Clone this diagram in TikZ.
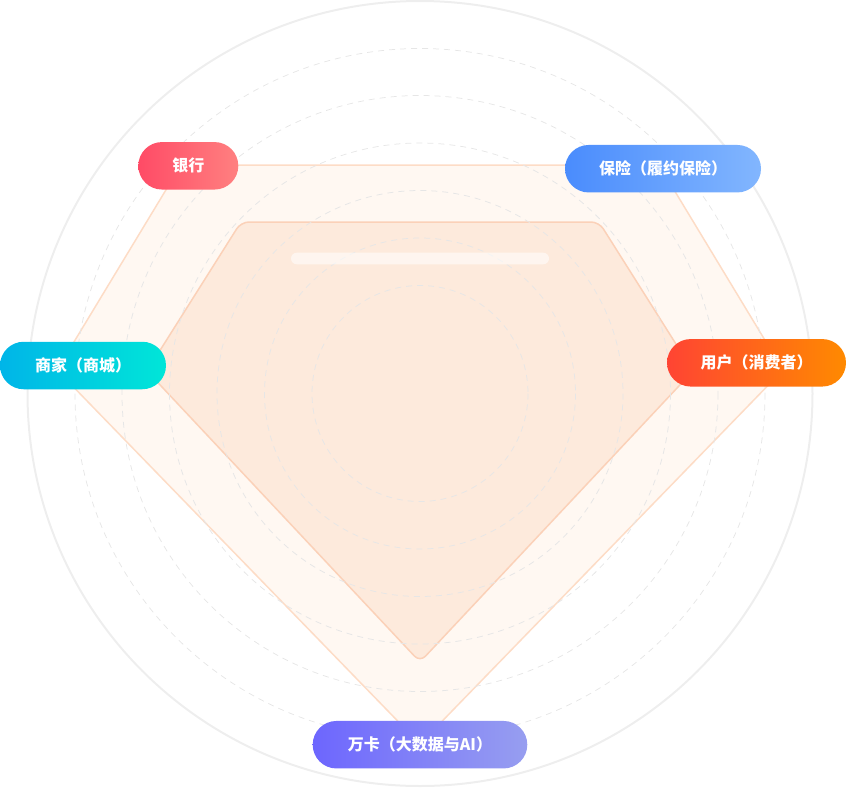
\documentclass[tikz,border=0pt]{standalone}
\usepackage{fontspec}
\setmainfont{Noto Sans CJK SC}
\definecolor{ringline}{HTML}{EEEEEE}
\definecolor{dashline}{HTML}{E6E6E6}
\definecolor{gemout}{HTML}{FFF8F2}
\definecolor{gemoutline}{HTML}{FDDCC6}
\definecolor{gemin}{HTML}{FDEADC}
\definecolor{geminline}{HTML}{FBD1B8}
\definecolor{bankL}{HTML}{FF4B66}
\definecolor{bankR}{HTML}{FF8080}
\definecolor{insurL}{HTML}{4A8CFD}
\definecolor{insurR}{HTML}{82B6FE}
\definecolor{merchL}{HTML}{00B5E8}
\definecolor{merchR}{HTML}{00E6D8}
\definecolor{userL}{HTML}{FF4433}
\definecolor{userR}{HTML}{FF8A00}
\definecolor{wankaL}{HTML}{6D66FE}
\definecolor{wankaR}{HTML}{979EF0}

\begin{document}
\begin{tikzpicture}[x=1pt,y=-1pt,
  ring/.style={draw=dashline,dash pattern=on 6pt off 5pt,line width=0.75pt},
  gemouter/.style={fill=gemout,draw=gemoutline,line width=1.5pt,rounded corners=8pt},
  geminner/.style={fill=gemin,draw=geminline,line width=1.5pt,rounded corners=8pt},
  pill/.style={rounded corners=23.75pt,minimum height=47.5pt,inner sep=0pt,
    text=white,font=\fontsize{16}{19}\selectfont\bfseries}]
\useasboundingbox (0,0) rectangle (847,788);
% outer ring
\draw[ringline,line width=2pt] (420,393.5) circle[radius=392.5];
% gem
\path[gemouter] (181,165) -- (659,165) -- (783,370) -- (420,744) -- (57,370) -- cycle;
\path[geminner] (241,222) -- (599,222) -- (693,371) -- (420,662) -- (147,371) -- cycle;
% dashed rings
\foreach \r in {108,155.5,203,250.5,298,345}
  \draw[ring] (420,393.5) circle[radius=\r];
\fill[white,opacity=0.55,rounded corners=5.8pt] (291,252.7) rectangle (549,264.3);
% labels
\node[pill,minimum width=100pt,left color=bankL,right color=bankR] (bank) at (188.3,165.8) {银行};
\node[pill,minimum width=196pt,left color=insurL,right color=insurR] (insur) at (663,168.7) {保险（履约保险）};
\node[pill,minimum width=166pt,left color=merchL,right color=merchR] (merch) at (83,365.5) {商家（商城）};
\node[pill,minimum width=179pt,left color=userL,right color=userR] (user) at (756.5,362.8) {用户（消费者）};
\node[pill,minimum width=214.6pt,left color=wankaL,right color=wankaR] (wanka) at (420,744.7) {万卡（大数据与AI）};
\end{tikzpicture}
\end{document}
